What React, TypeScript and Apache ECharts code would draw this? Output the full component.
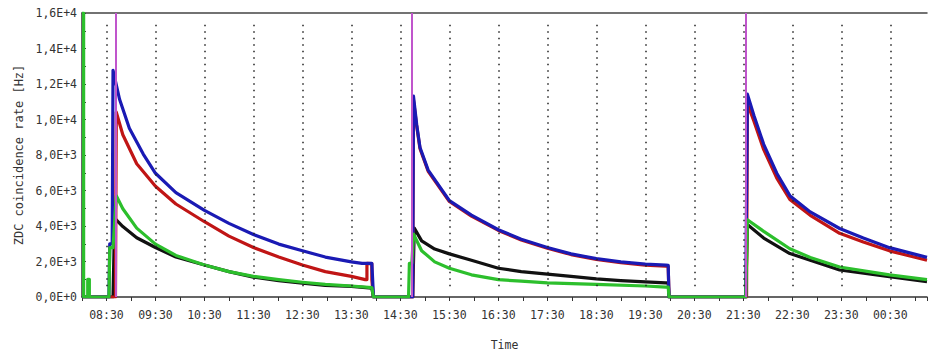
import React, { useEffect, useRef } from "react";
import * as echarts from "echarts";

// x tick labels (every hour, at half past)
const xTickLabels = ["08:30", "09:30", "10:30", "11:30", "12:30", "13:30", "14:30", "15:30", "16:30", "17:30", "18:30", "19:30", "20:30", "21:30", "22:30", "23:30", "00:30"];
const xStart = "08:00";
const xEnd = "01:15";
const fillStarts = ["08:41", "14:44", "21:33"];

const blueSeries: [string, number][] = [
  ["08:00", 0], ["08:33", 0], ["08:34", 3000], ["08:37", 3000], ["08:38", 12770], ["08:46", 11140], ["08:58", 9510],
  ["09:15", 8050], ["09:30", 6970], ["09:55", 5880], ["10:30", 4880], ["11:00", 4150], ["11:30", 3520], ["12:01", 2980],
  ["12:30", 2610], ["12:58", 2250], ["13:30", 1980], ["13:43", 1890], ["13:49", 1890], ["13:55", 1900], ["13:56", 980], ["13:57", 0],
  ["14:45", 0], ["14:46", 11320], ["14:50", 9690], ["14:54", 8420], ["15:04", 7150], ["15:30", 5430], ["15:57", 4610],
  ["16:30", 3790], ["16:58", 3250], ["17:30", 2790], ["17:59", 2430], ["18:30", 2160], ["19:00", 1980], ["19:30", 1850],
  ["19:55", 1800], ["19:58", 1780], ["19:59", 0],
  ["21:33", 0], ["21:35", 11430], ["21:43", 10230], ["21:55", 8600], ["22:11", 6970], ["22:27", 5710], ["22:52", 4790],
  ["23:28", 3860], ["23:57", 3320], ["00:29", 2780], ["01:15", 2230],
];

const redSeries: [string, number][] = [
  ["08:00", 0], ["08:41", 0], ["08:42", 10410], ["08:50", 9140], ["09:07", 7510], ["09:30", 6240], ["09:55", 5240],
  ["10:30", 4240], ["11:00", 3430], ["11:30", 2790], ["12:01", 2250], ["12:30", 1800], ["12:58", 1430], ["13:30", 1160],
  ["13:47", 980], ["13:49", 980], ["13:49", 1890], ["13:55", 1880], ["13:55", 980], ["13:57", 0],
  ["14:45", 0], ["14:46", 11100], ["14:50", 9600], ["14:54", 8350], ["15:04", 7080], ["15:30", 5380], ["15:57", 4560],
  ["16:30", 3750], ["16:58", 3210], ["17:30", 2750], ["17:59", 2390], ["18:30", 2120], ["19:00", 1930], ["19:30", 1800],
  ["19:55", 1740], ["19:58", 1720], ["19:59", 0],
  ["21:34", 0], ["21:35", 10900], ["21:43", 9900], ["21:55", 8300], ["22:11", 6700], ["22:27", 5500], ["22:52", 4600],
  ["23:28", 3590], ["23:57", 3100], ["00:29", 2600], ["01:15", 2070],
];

const greenSeries: [string, number][] = [
  ["08:00", 16000], ["08:02", 16000], ["08:02", 0], ["08:07", 0], ["08:07", 1000], ["08:09", 1000], ["08:09", 0],
  ["08:33", 0], ["08:34", 2780], ["08:38", 2780], ["08:42", 5700], ["08:50", 4970], ["09:07", 3880], ["09:30", 2980],
  ["09:55", 2340], ["10:30", 1800], ["11:00", 1430], ["11:30", 1160], ["12:01", 980], ["12:30", 830], ["12:58", 710],
  ["13:30", 620], ["13:55", 530], ["13:57", 0],
  ["14:40", 0], ["14:41", 1900], ["14:44", 1900], ["14:46", 3550], ["14:56", 2610], ["15:12", 1980], ["15:30", 1620],
  ["15:57", 1250], ["16:30", 980], ["16:58", 890], ["17:30", 800], ["18:30", 710], ["19:30", 620], ["19:55", 560], ["19:58", 560], ["19:59", 0],
  ["21:33", 0], ["21:35", 4350], ["21:55", 3700], ["22:27", 2720], ["22:52", 2230], ["23:28", 1690], ["00:29", 1250], ["01:15", 980],
];

const blackSeries: [string, number][] = [
  ["08:00", 0], ["08:38", 0], ["08:40", 4400], ["08:42", 4340], ["08:50", 3970], ["09:07", 3340], ["09:30", 2790],
  ["09:55", 2250], ["10:30", 1800], ["11:00", 1430], ["11:30", 1120], ["12:01", 920], ["12:30", 780], ["12:58", 650],
  ["13:30", 600], ["13:55", 500], ["13:57", 0],
  ["14:45", 0], ["14:47", 3880], ["14:56", 3160], ["15:12", 2700], ["15:30", 2430], ["15:57", 2070], ["16:30", 1620],
  ["16:58", 1430], ["17:30", 1290], ["17:59", 1160], ["18:30", 1020], ["19:00", 925], ["19:30", 850], ["19:55", 800],
  ["19:58", 800], ["19:59", 0],
  ["21:33", 0], ["21:35", 4080], ["21:55", 3320], ["22:27", 2450], ["22:52", 2070], ["23:28", 1520], ["00:29", 1140], ["01:15", 870],
];

const yMax = 16000;
const yInterval = 2000;

const toMin = (s: string) => {
  const [h, m] = s.split(":").map(Number);
  let t = h * 60 + m;
  if (h < 8) t += 24 * 60;
  return t - 8 * 60;
};

const toData = (arr: [string, number][]) => arr.map(([t, v]) => [toMin(t), v]);

const fmtY = (v: number) => {
  if (v === 0) return "0,0E+0";
  const e = Math.floor(Math.log10(v) + 1e-9);
  const m = v / Math.pow(10, e);
  return m.toFixed(1).replace(".", ",") + "E+" + e;
};

const FONT = "DejaVu Sans Mono";

export default function App() {
  const ref = useRef<HTMLDivElement>(null);
  useEffect(() => {
    if (!ref.current) return;
    const chart = echarts.init(ref.current, undefined, { renderer: "svg" });
    const xMin = toMin(xStart);
    const xMax = toMin(xEnd);
    const labelMap: Record<number, string> = {};
    xTickLabels.forEach((l) => (labelMap[toMin(l)] = l));

    const dotted = xTickLabels.map((l) => [
      { coord: [toMin(l), 600] },
      { coord: [toMin(l), 15400] },
    ]);
    const pink = fillStarts.map((l) => ({ xAxis: toMin(l) }));

    const lineSeries = (name: string, data: [string, number][], color: string, extra: any = {}) => ({
      name,
      type: "line",
      data: toData(data),
      showSymbol: false,
      symbol: "none",
      clip: true,
      lineStyle: { color, width: 3.2, join: "round" },
      itemStyle: { color },
      ...extra,
    });

    chart.setOption({
      animation: false,
      backgroundColor: "#ffffff",
      grid: { left: 82, right: 0, top: 13, bottom: 48 },
      xAxis: [
        {
          type: "value",
          min: xMin,
          max: xMax,
          interval: 30,
          name: "Time",
          nameLocation: "middle",
          nameGap: 42,
          nameTextStyle: { fontFamily: FONT, fontSize: 11.5, color: "#333" },
          axisLine: { show: true, lineStyle: { color: "#333", width: 1.5 } },
          axisTick: { show: true, length: 4, inside: false, lineStyle: { color: "#333" } },
          axisLabel: {
            fontFamily: FONT,
            fontSize: 11.5,
            color: "#333",
            margin: 12,
            showMinLabel: true,
            showMaxLabel: true,
            formatter: (v: number) => labelMap[v] || "",
          },
          splitLine: { show: false },
        },
        {
          type: "value",
          position: "top",
          min: xMin,
          max: xMax,
          interval: 30,
          axisLine: { show: true, lineStyle: { color: "#444", width: 1.5 } },
          axisTick: { show: false },
          axisLabel: { show: false },
          splitLine: { show: false },
        },
      ],
      yAxis: {
        type: "value",
        min: 0,
        max: yMax,
        interval: yInterval,
        name: "ZDC coincidence rate [Hz]",
        nameLocation: "middle",
        nameGap: 53,
        nameTextStyle: { fontFamily: FONT, fontSize: 12, color: "#333" },
        axisLine: { show: true, lineStyle: { color: "#333", width: 1.5 } },
        axisTick: { show: true, inside: true, length: 4, lineStyle: { color: "#333" } },
        minorTick: { show: true, splitNumber: 2, length: 4, lineStyle: { color: "#333" } },
        axisLabel: { fontFamily: FONT, fontSize: 11.5, color: "#333", margin: 5, formatter: fmtY },
        splitLine: { show: false },
      },
      series: [
        lineSeries("black", blackSeries, "#111111", {
          markLine: {
            silent: true,
            symbol: "none",
            label: { show: false },
            lineStyle: { color: "#222", type: [1.5, 5], width: 1.5 },
            data: dotted,
          },
        }),
        lineSeries("red", redSeries, "#c01515"),
        lineSeries("blue", blueSeries, "#1a1ab4"),
        lineSeries("green", greenSeries, "#2cbf2c", {
          markLine: {
            silent: true,
            symbol: "none",
            label: { show: false },
            lineStyle: { color: "#c055cc", type: "solid", width: 2 },
            data: pink,
          },
        }),
      ],
    });
    return () => chart.dispose();
  }, []);
  return <div ref={ref} style={{ position: "fixed", left: 0, top: 0, width: 930, height: 356 }} />;
}
